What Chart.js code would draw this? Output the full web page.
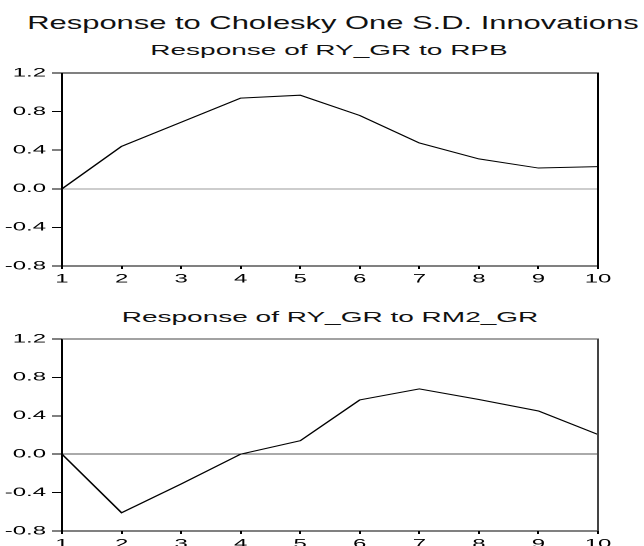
<!DOCTYPE html>
<html>
<head>
<meta charset="utf-8">
<title>Response to Cholesky One S.D. Innovations</title>
<script src="https://cdn.jsdelivr.net/npm/chart.js@4.4.1/dist/chart.umd.min.js"></script>
<style>
  html, body { margin: 0; padding: 0; background: #fff; }
  #page { position: relative; width: 644px; height: 546px; overflow: hidden; font-family: "Liberation Sans", Arial, sans-serif; color: #111; }
  .caption { position: absolute; white-space: nowrap; line-height: 1; transform-origin: 50% 50%; }
  .panel { position: absolute; left: 0; width: 322px; transform: scaleX(2); transform-origin: 0 0; }
</style>
</head>
<body>
<div id="page">
  <div class="caption" style="left:333px; top:14.2px; font-size:18.5px; transform:translateX(-50%) scaleX(1.67);">Response to Cholesky One S.D. Innovations</div>
  <div class="caption" style="left:329px; top:43.4px; font-size:14px; transform:translateX(-50%) scaleX(2);">Response of RY_GR to RPB</div>
  <div class="panel" style="top:60px; height:230px;"><canvas id="rpbChart" width="322" height="230"></canvas></div>
  <div class="caption" style="left:330px; top:309.6px; font-size:14px; transform:translateX(-50%) scaleX(2);">Response of RY_GR to RM2_GR</div>
  <div class="panel" style="top:326px; height:220px;"><canvas id="rm2Chart" width="322" height="220"></canvas></div>
</div>
<script>
  // impulse response horizon (periods)
  const periods = ['1', '2', '3', '4', '5', '6', '7', '8', '9', '10'];
  const yTicks = [-0.8, -0.4, 0.0, 0.4, 0.8, 1.2];

  // response of RY_GR to a shock in RPB
  const respRPB = [0.0, 0.44, 0.69, 0.94, 0.97, 0.76, 0.475, 0.31, 0.215, 0.23];
  // response of RY_GR to a shock in RM2_GR
  const respRM2 = [0.0, -0.61, -0.31, 0.0, 0.14, 0.565, 0.68, 0.57, 0.45, 0.205];

  const tickFont = { family: '"Liberation Sans", Arial, sans-serif', size: 12 };

  // top and right edges of the plot box
  const frame = {
    id: 'frame',
    afterDraw(chart, args, opts) {
      const { ctx, chartArea: a } = chart;
      ctx.save();
      ctx.strokeStyle = opts.color || '#000';
      ctx.lineWidth = 1;
      ctx.beginPath();
      ctx.moveTo(a.left, a.top);
      ctx.lineTo(a.right, a.top);
      ctx.lineTo(a.right, a.bottom);
      ctx.stroke();
      ctx.restore();
    }
  };

  function responseChart(canvasId, values, zeroColor, frameColor, padTop, xAxisHeight) {
    return new Chart(document.getElementById(canvasId).getContext('2d'), {
      type: 'line',
      data: {
        labels: periods,
        datasets: [{
          data: values,
          borderColor: '#000',
          borderWidth: 1,
          pointRadius: 0,
          tension: 0,
          fill: false
        }]
      },
      options: {
        responsive: false,
        animation: false,
        devicePixelRatio: 2,
        layout: { padding: { top: padTop, right: 23, bottom: 0, left: 0 } },
        plugins: {
          legend: { display: false },
          tooltip: { enabled: false },
          frame: { color: frameColor }
        },
        scales: {
          x: {
            offset: false,
            grid: { drawOnChartArea: false, tickLength: 3, tickColor: '#000' },
            border: { color: '#000', width: 1 },
            ticks: { color: '#000', font: tickFont, padding: 3, maxRotation: 0, autoSkip: false },
            afterFit: (s) => { s.height = xAxisHeight; }
          },
          y: {
            min: -0.8,
            max: 1.2,
            afterBuildTicks: (s) => { s.ticks = yTicks.map(v => ({ value: v })); },
            grid: {
              color: (c) => (c.tick && c.tick.value === 0 ? zeroColor : 'rgba(0,0,0,0)'),
              tickColor: '#000',
              tickLength: 5
            },
            border: { color: '#000', width: 1 },
            ticks: { color: '#000', font: tickFont, padding: 3, callback: (v) => v.toFixed(1) },
            afterFit: (s) => { s.width = 31; }
          }
        }
      },
      plugins: [frame]
    });
  }

  responseChart('rpbChart', respRPB, '#9a9a9a', '#000', 13, 24);
  responseChart('rm2Chart', respRM2, '#555', '#444', 13, 15);
</script>
</body>
</html>
